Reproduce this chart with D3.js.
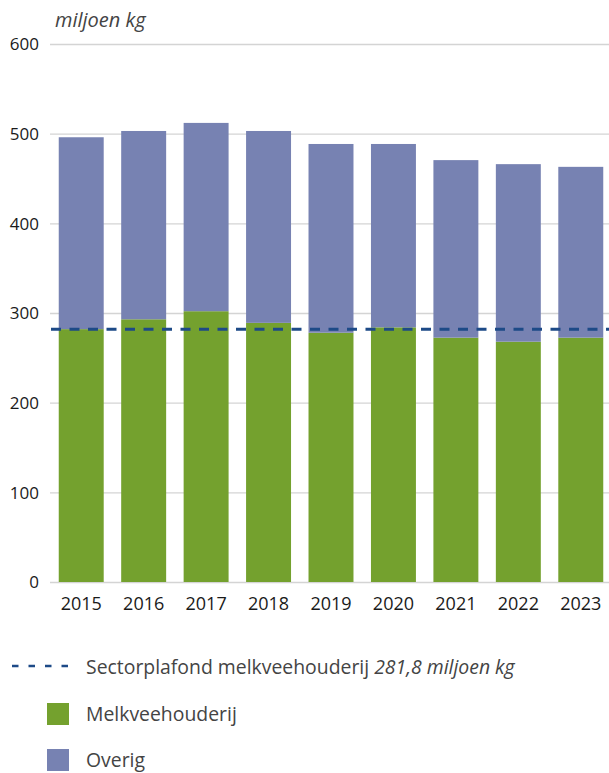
<!DOCTYPE html>
<head>
  <meta charset="utf-8">
  <script src="https://d3js.org/d3.v7.min.js"></script>
  <style>
    body { margin:0; background:#fff; }
    text { font-family: "Open Sans", "Noto Sans", sans-serif; }
  </style>
</head>
<body>
<script>

/* Data */
/* ==== */

var years = ['2015', '2016', '2017', '2018', '2019', '2020', '2021', '2022', '2023'];
var melkvee = [282, 293, 302, 289, 278, 284, 272.5, 268, 272.5];
var totaal = [496, 503, 512, 503, 488.5, 488.5, 470.5, 466, 463];
var yTicks = [0, 100, 200, 300, 400, 500, 600];
var plafond = 281.8;

var overig = totaal.map(function(t, i) { return t - melkvee[i]; });

/* Set up */
/* ====== */

var width = 609,
    height = 773;

var green = '#74a12e',
    purple = '#7782b2',
    dashBlue = '#1d4a87';

var svg = d3.select('body')
  .append('svg')
    .attr('width', width)
    .attr('height', height);

var x = d3.scaleBand()
    .domain(years)
    .range([50, 612])
    .paddingInner(0.28)
    .paddingOuter(0.14);

var y = d3.scaleLinear()
    .domain([0, 600])
    .range([582, 44]);

// gridlines + y labels
var yAxis = d3.axisLeft(y)
    .tickValues(yTicks)
    .tickSize(-(width - 50))
    .tickPadding(11);

var gy = svg.append('g')
    .attr('transform', 'translate(50,0)')
    .call(yAxis);

gy.select('.domain').remove();
gy.selectAll('.tick line')
    .attr('stroke', '#d4d4d4')
    .attr('stroke-width', 1.3);
gy.selectAll('.tick text')
    .attr('fill', '#1a1a1a')
    .attr('font-size', 17)
    .attr('dy', '0.35em');

svg.append('text')
    .attr('x', 55)
    .attr('y', 27)
    .attr('font-size', 20)
    .attr('font-style', 'italic')
    .attr('fill', '#444')
    .text('miljoen kg');

// stacked bars
var stacked = years.map(function(yr, i) {
  return { year: yr, melkvee: melkvee[i], overig: overig[i] };
});

var series = d3.stack().keys(['melkvee', 'overig'])(stacked);
var colours = { melkvee: green, overig: purple };

svg.selectAll('g.series')
    .data(series)
    .enter()
  .append('g')
    .attr('class', 'series')
    .attr('fill', function(d) { return colours[d.key]; })
  .selectAll('rect')
    .data(function(d) { return d; })
    .enter()
  .append('rect')
    .attr('x', function(d) { return x(d.data.year); })
    .attr('width', x.bandwidth())
    .attr('y', function(d) { return y(d[1]); })
    .attr('height', function(d) { return y(d[0]) - y(d[1]); });

// x labels
var xAxis = d3.axisBottom(x).tickSize(0).tickPadding(15);
var gx = svg.append('g')
    .attr('transform', 'translate(0,582)')
    .call(xAxis);
gx.select('.domain').remove();
gx.selectAll('.tick text')
    .attr('fill', '#1a1a1a')
    .attr('font-size', 18);

// sector ceiling
svg.append('line')
    .attr('x1', 51)
    .attr('x2', width)
    .attr('y1', y(plafond))
    .attr('y2', y(plafond))
    .attr('stroke', dashBlue)
    .attr('stroke-width', 3)
    .attr('stroke-dasharray', '10,8.5');

/* Legend */
/* ====== */

svg.append('line')
    .attr('x1', 12).attr('x2', 69)
    .attr('y1', 666).attr('y2', 666)
    .attr('stroke', dashBlue)
    .attr('stroke-width', 2.6)
    .attr('stroke-dasharray', '6.5,10');

var lt = svg.append('text')
    .attr('x', 86)
    .attr('y', 674)
    .attr('font-size', 19.4)
    .attr('fill', '#444');
lt.append('tspan').text('Sectorplafond melkveehouderij ');
lt.append('tspan').attr('font-style', 'italic').text('281,8 miljoen kg');

var legendItems = [
  { label: 'Melkveehouderij', colour: green, y: 703 },
  { label: 'Overig', colour: purple, y: 749 }
];

var li = svg.selectAll('g.legend')
    .data(legendItems)
    .enter()
  .append('g')
    .attr('class', 'legend');

li.append('rect')
    .attr('x', 47)
    .attr('y', function(d) { return d.y; })
    .attr('width', 22)
    .attr('height', 22)
    .attr('fill', function(d) { return d.colour; });

li.append('text')
    .attr('x', 86)
    .attr('y', function(d) { return d.y + 17.5; })
    .attr('font-size', 19.4)
    .attr('fill', '#444')
    .text(function(d) { return d.label; });

</script>
</body>
